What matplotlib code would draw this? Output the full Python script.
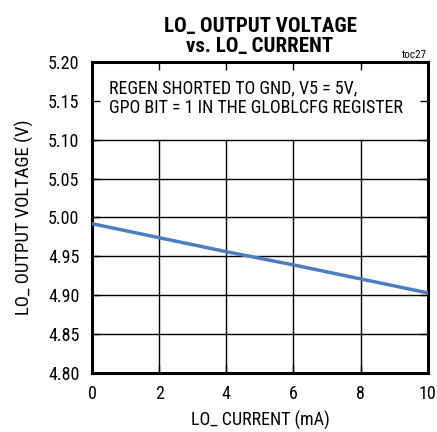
import matplotlib.pyplot as plt
import numpy as np

plt.rcParams['font.family'] = ['Roboto Condensed', 'Liberation Sans', 'DejaVu Sans']

# data
current = [0, 2, 4, 6, 8, 10]
voltage = [4.992, 4.974, 4.956, 4.939, 4.921, 4.903]
xticks = [0, 2, 4, 6, 8, 10]
yticks = [4.80, 4.85, 4.90, 4.95, 5.00, 5.05, 5.10, 5.15, 5.20]

fig = plt.figure(figsize=(4.37, 4.32), dpi=100)
ax = fig.add_axes([0.2105, 0.1366, 0.7685, 0.72])

# grid only below the note box
for y in yticks:
    if y <= 5.10:
        ax.axhline(y, color='black', lw=1.0, zorder=1)
for x in xticks[1:-1]:
    ax.plot([x, x], [4.80, 5.10], color='black', lw=1.0, zorder=1)

ax.plot(current, voltage, color='#4a7ebf', lw=2.5, zorder=3)

ax.set_xlim(0, 10)
ax.set_ylim(4.80, 5.20)
ax.set_xticks(xticks)
ax.set_yticks(yticks)
ax.set_xticklabels([str(x) for x in xticks])
ax.set_yticklabels(['%.2f' % y for y in yticks])
ax.tick_params(direction='in', length=6, width=1.0, labelsize=13, pad=9,
               top=True, right=True, color='black')
for s in ax.spines.values():
    s.set_linewidth(2.2)

ax.text(0.5, 5.178, 'REGEN SHORTED TO GND, V5 = 5V,\nGPO BIT = 1 IN THE GLOBLCFG REGISTER',
        fontsize=13, va='top', ha='left', linespacing=1.15)

ax.set_xlabel('LO_ CURRENT (mA)', fontsize=13, labelpad=5)
ax.set_ylabel('LO_ OUTPUT VOLTAGE (V)', fontsize=13.5, labelpad=10)

fig.text(0.595, 0.96, 'LO_ OUTPUT VOLTAGE\nvs. LO_ CURRENT', fontsize=15,
         fontweight='bold', ha='center', va='top', linespacing=1.05)
fig.text(0.978, 0.862, 'toc27', fontsize=8, ha='right', va='bottom')

fig.savefig('out.png', dpi=100)
